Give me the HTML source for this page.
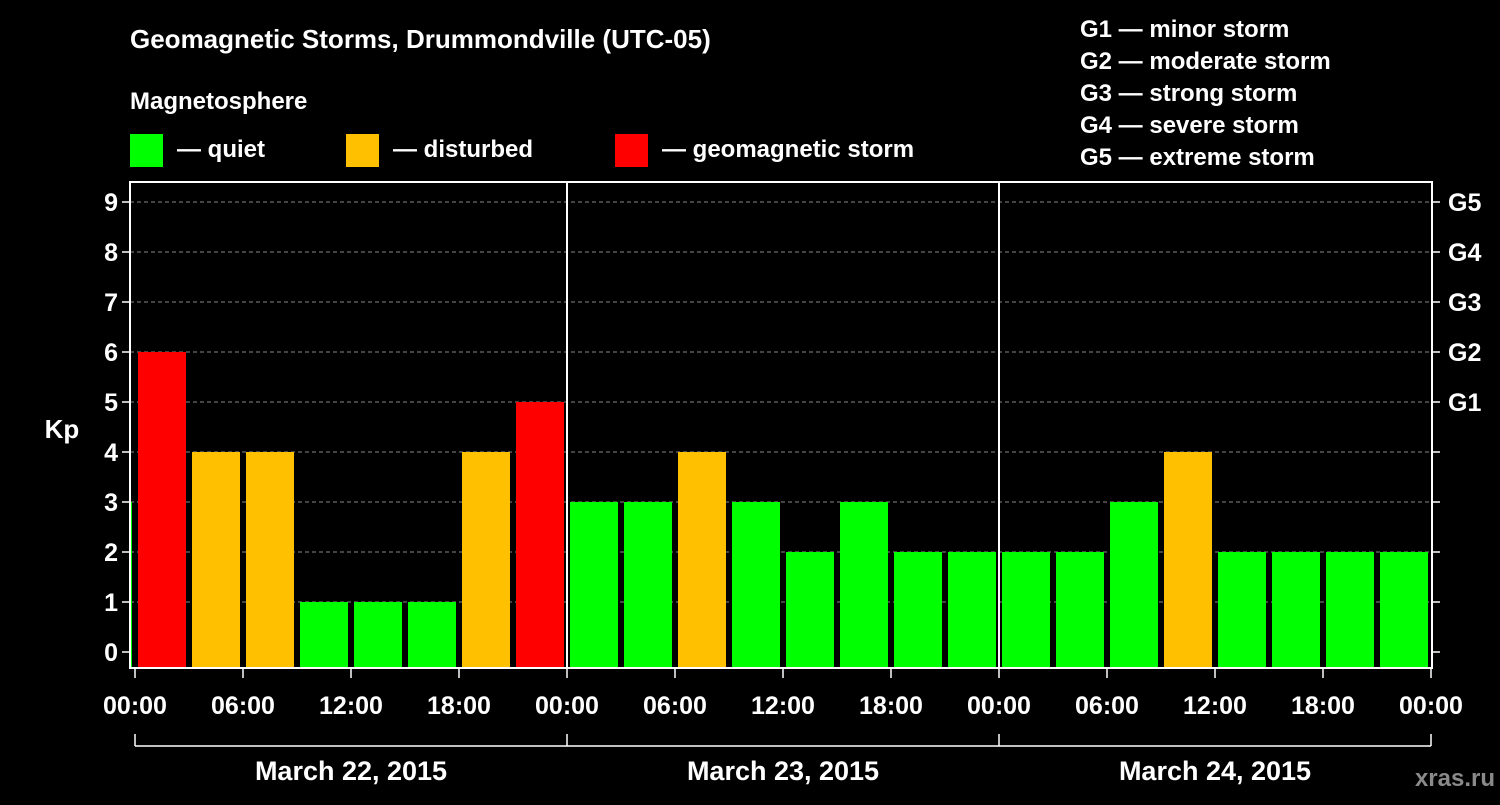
<!DOCTYPE html>
<html><head><meta charset="utf-8"><style>
body{margin:0;background:#000;width:1500px;height:800px;overflow:hidden}
svg text{font-family:"Liberation Sans",Arial,sans-serif;font-weight:bold;fill:#fff}
</style></head><body>
<svg id="c" width="1500" height="800" xmlns="http://www.w3.org/2000/svg">
<rect width="1500" height="800" fill="#000"/>
<text x="130" y="48" font-size="26">Geomagnetic Storms, Drummondville (UTC-05)</text>
<text x="130" y="109" font-size="24">Magnetosphere</text>
<g><rect x="130" y="134" width="33" height="33" fill="#00ff00"/><text x="177" y="157" font-size="24">— quiet</text></g>
<g><rect x="346" y="134" width="33" height="33" fill="#ffc000"/><text x="393" y="157" font-size="24">— disturbed</text></g>
<g><rect x="615" y="134" width="33" height="33" fill="#ff0000"/><text x="662" y="157" font-size="24">— geomagnetic storm</text></g>
<g font-size="24">
<text x="1080" y="37">G1 — minor storm</text>
<text x="1080" y="69">G2 — moderate storm</text>
<text x="1080" y="101">G3 — strong storm</text>
<text x="1080" y="133">G4 — severe storm</text>
<text x="1080" y="165">G5 — extreme storm</text>
</g>
<text x="62" y="438" font-size="26" text-anchor="middle">Kp</text>
<text x="1495" y="786" font-size="24" text-anchor="end" fill="#888" style="fill:#8a8a8a">xras.ru</text>
<g id="grid"></g><g id="bars"></g><g id="axes"></g>
</svg>
<script>
const kpValues=[3,6,4,4,1,1,1,4,5,3,3,4,3,2,3,2,2,2,2,3,4,2,2,2,2];
const yTicks=[0,1,2,3,4,5,6,7,8,9];
const gLabels=["G1","G2","G3","G4","G5"];
const xTickLabels=["00:00","06:00","12:00","18:00","00:00","06:00","12:00","18:00","00:00","06:00","12:00","18:00","00:00"];
const dayLabels=["March 22, 2015","March 23, 2015","March 24, 2015"];
const NS="http://www.w3.org/2000/svg";
const L=130,R=1432,T=182,B=668,X0=135,HOURPX=18;
const y=v=>652-v*50;
const x=h=>X0+h*HOURPX;
function mk(tag,attrs,parent,text){const e=document.createElementNS(NS,tag);for(const k in attrs)e.setAttribute(k,attrs[k]);if(text!==undefined)e.textContent=text;parent.appendChild(e);return e;}
const grid=document.getElementById('grid'),bars=document.getElementById('bars'),axes=document.getElementById('axes');
yTicks.forEach(v=>{if(v>0){const g=mk('line',{x1:L,x2:R,y1:y(v),y2:y(v),stroke:'#888','stroke-dasharray':'4,3','stroke-width':1},grid);

}});
const col=v=>v>=5?'#ff0000':(v>=4?'#ffc000':'#00ff00');
kpValues.forEach((v,i)=>{const c=x(-3+3*i+1.5);let x1=Math.max(c-24,L+1),x2=Math.min(c+24,R-4);
const r=mk('rect',{x:x1,y:y(v),width:x2-x1,height:B-y(v),fill:col(v)},bars);

});
const frame=mk('rect',{x:L,y:T,width:R-L,height:B-T,fill:'none',stroke:'#fff','stroke-width':2},axes);


[24,48].forEach(h=>{const l=mk('line',{x1:x(h),x2:x(h),y1:T,y2:B,stroke:'#fff','stroke-width':2},axes);

});
yTicks.forEach(v=>{mk('line',{x1:L-8,x2:L,y1:y(v),y2:y(v),stroke:'#fff','stroke-width':1.5},axes);
mk('line',{x1:R,x2:R+8,y1:y(v),y2:y(v),stroke:'#fff','stroke-width':1.5},axes);
const t=mk('text',{x:L-12,y:y(v)+9,'font-size':25,'text-anchor':'end'},axes,String(v));

});
gLabels.forEach((g,i)=>{const t=mk('text',{x:R+16,y:y(5+i)+9,'font-size':25},axes,g);

});
xTickLabels.forEach((s,i)=>{const h=i*6;mk('line',{x1:x(h),x2:x(h),y1:B,y2:B+10,stroke:'#fff','stroke-width':1.5},axes);
const t=mk('text',{x:x(h),y:714,'font-size':25,'text-anchor':'middle'},axes,s);

});
mk('line',{x1:x(0),x2:x(72),y1:746,y2:746,stroke:'#fff','stroke-width':1.5},axes);
[0,24,48,72].forEach(h=>mk('line',{x1:x(h),x2:x(h),y1:734,y2:746,stroke:'#fff','stroke-width':1.5},axes));
dayLabels.forEach((s,i)=>{const t=mk('text',{x:x(24*i+12),y:780,'font-size':27,'text-anchor':'middle'},axes,s);

});
</script>
</body></html>
